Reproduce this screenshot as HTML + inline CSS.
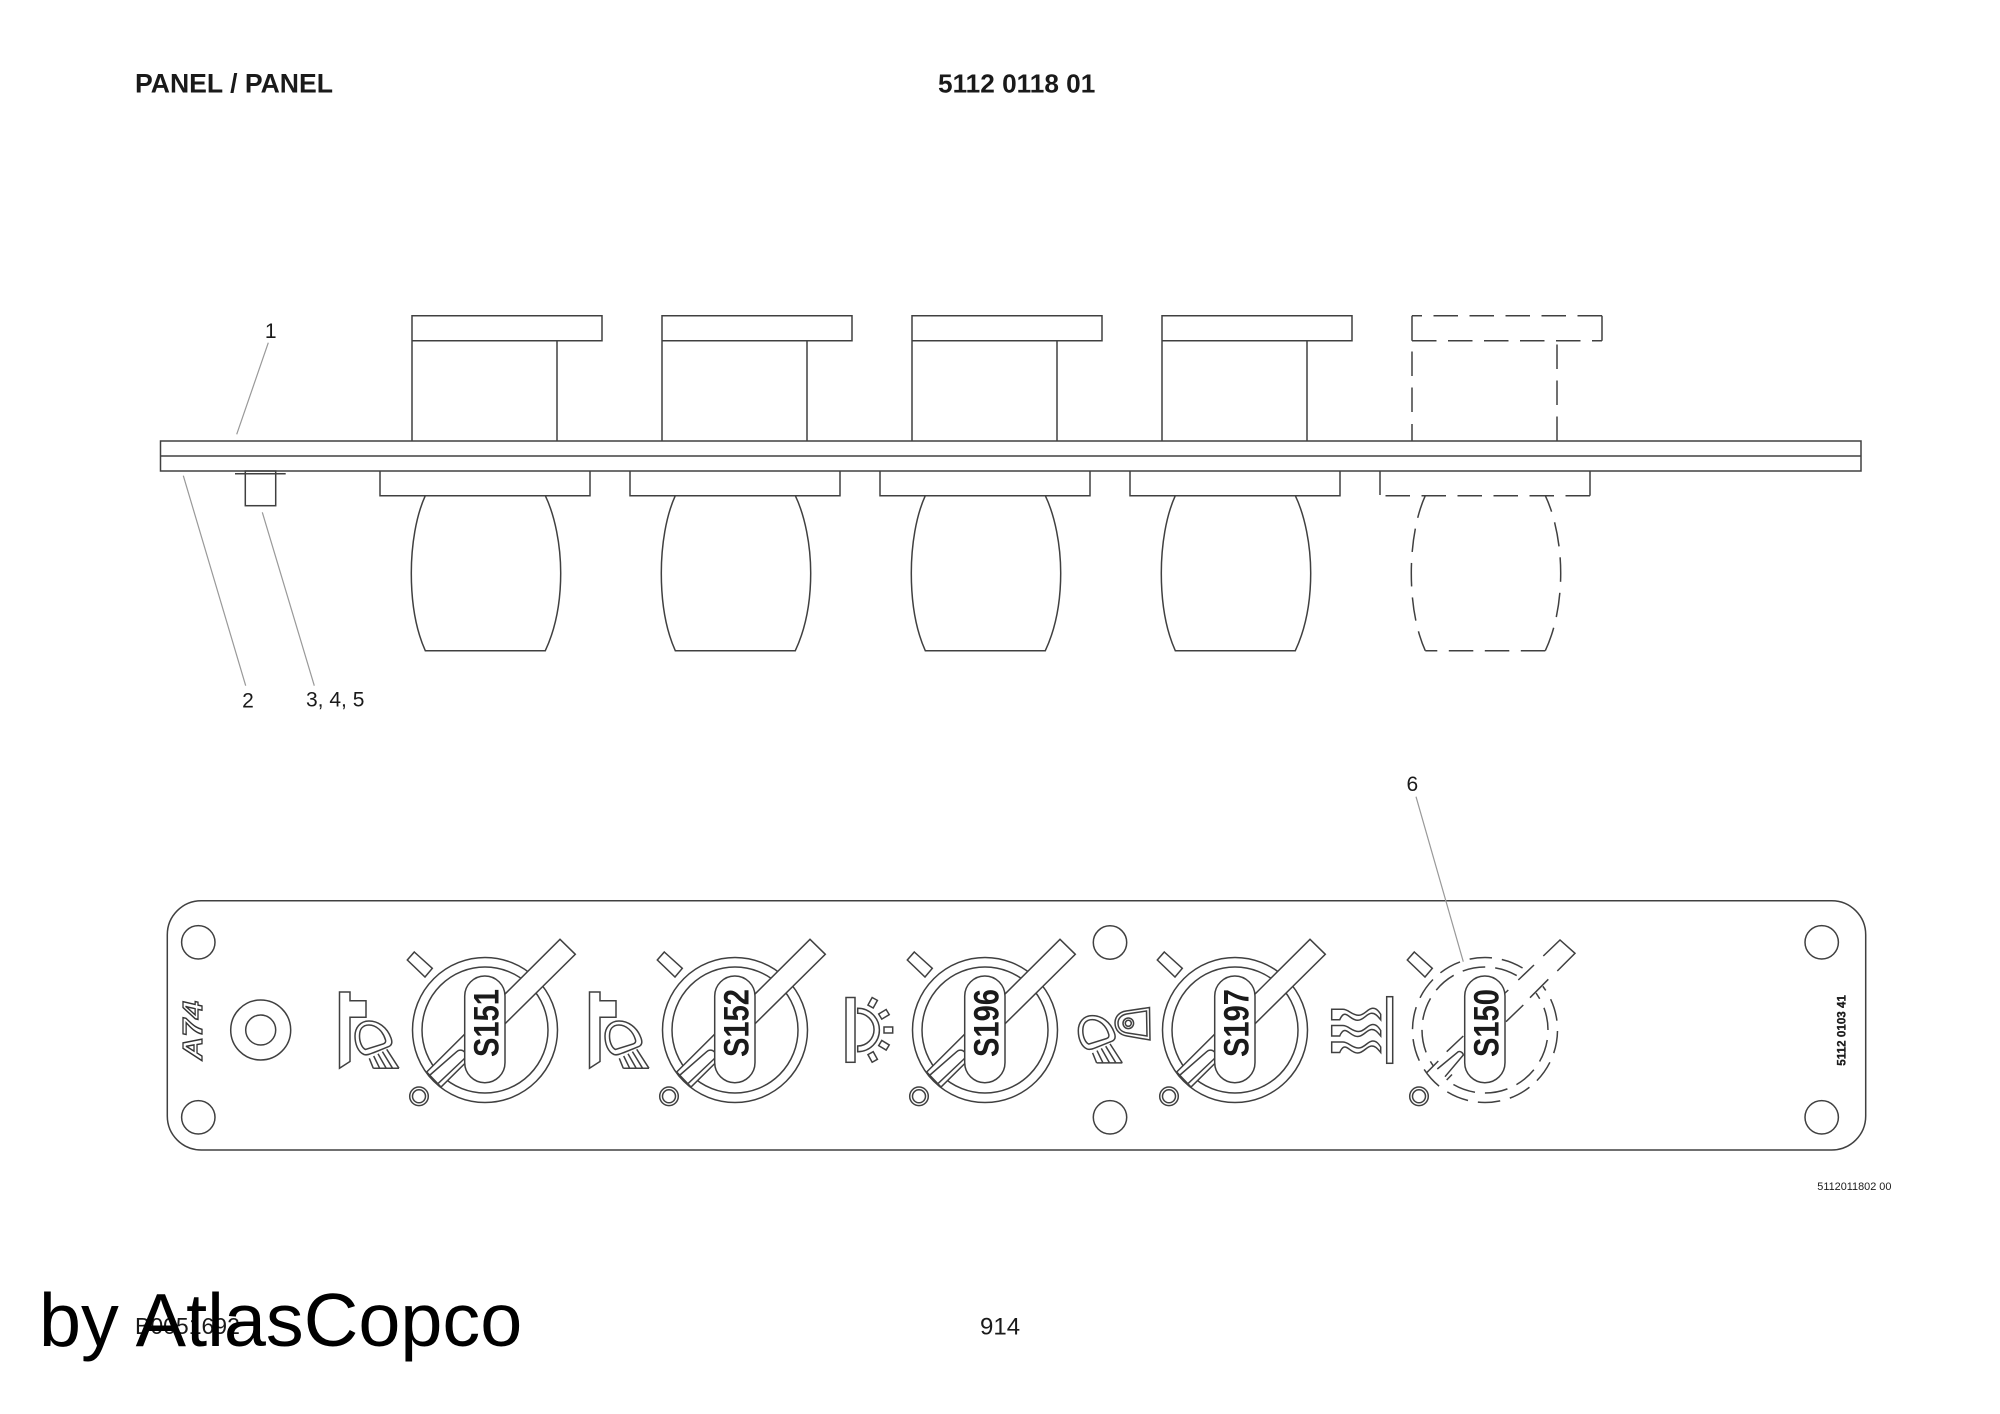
<!DOCTYPE html>
<html>
<head>
<meta charset="utf-8">
<style>
html,body{margin:0;padding:0;background:#fff;width:2000px;height:1414px;overflow:hidden}
svg{display:block}
text{font-family:"Liberation Sans",sans-serif;fill:#1a1a1a}
.l{fill:none;stroke:#404040;stroke-width:1.5}
.w{fill:#fff;stroke:#404040;stroke-width:1.5}
.d{fill:none;stroke:#404040;stroke-width:1.5;stroke-dasharray:24.5 11.5}
.ld{fill:none;stroke:#999;stroke-width:1.2}
</style>
</head>
<body>
<svg width="2000" height="1414" viewBox="0 0 2000 1414" xmlns="http://www.w3.org/2000/svg">
<defs>
  <g id="knob">
    <path class="l" d="M412 441V315.7H602V340.7H412M557 340.7V441"/>
    <path class="l" d="M380 471V495.7H590V471"/>
    <path class="l" d="M425.3 495.7C416 516 411.3 545 411.3 573C411.3 603 416 630 425.3 650.7H545.3C555 630 560.7 603 560.7 573C560.7 545 555 516 545.3 495.7"/>
  </g>
  <g id="sw">
    <circle class="l" r="72.5"/>
    <circle class="l" r="63"/>
    <path class="w" d="M75 -90.7L90.3 -75.7L-44 57L-58.3 42Z"/>
    <path class="l" d="M-55 45L-28 21.5A5 5 0 0 1 -21 29L-46.7 53.3"/>
    <path class="l" d="M-70.7 -78L-52.7 -61.7L-60 -53L-77.7 -70Z"/>
    <circle class="l" cx="-66" cy="66.3" r="9.3"/>
    <circle class="l" cx="-66" cy="66.3" r="6.5"/>
    <rect class="w" x="-20.3" y="-54" width="40.3" height="106.7" rx="20.1" ry="20.1"/>
  </g>
  <g id="lamp">
    <path class="l" d="M391 1038C387 1027 378 1021 369 1021C360 1021 355 1028 355 1036C355 1044 358 1052 364 1054.5C367 1055.5 370 1054 374 1052.5L389 1046.5C392 1045 392.5 1042 391 1038Z"/>
    <path class="l" d="M385.5 1040C383 1031 376 1025 369 1025C362 1025 359.5 1030 359.5 1036C359.5 1042 362 1048 365.5 1049.5L383 1044C385 1043.5 386 1042 385.5 1040Z"/>
    <path class="l" d="M369.3 1058.3L373.3 1068.3M373.7 1056L379.7 1068.3M378 1053.8L386.2 1068.3M382.4 1051.6L392.6 1068.3M386.7 1049.3L399 1068.3M373.3 1068.3H399"/>
  </g>
  <path id="br" class="l" d="M339.5 992H350V1000.7H366V1017.3H350V1061.5L339.5 1068.3Z"/>
  <path id="wave" class="l" d="M0 1H11C17 1 20 7 27 7C33 7 36 0 41 0C45 0 47 3 49 6V11.5C46 8 44 5 40 5C35 5 32 12 26 12C20 12 17 6 13 6C11 6 9 9 8 11.5H0Z"/>
</defs>

<!-- headers -->
<text x="135" y="92.7" font-size="26.6" font-weight="bold">PANEL / PANEL</text>
<text x="938" y="92.7" font-size="26.2" font-weight="bold">5112 0118 01</text>

<!-- side view -->
<use href="#knob"/>
<use href="#knob" x="250"/>
<use href="#knob" x="500"/>
<use href="#knob" x="750"/>

<!-- dashed knob -->
<path class="d" d="M1602 315.7H1412"/>
<path class="d" d="M1412 340.7H1602"/>
<path class="l" d="M1412 315.7V340.7M1602 315.7V340.7"/>
<path class="l" d="M1412 441V424" style="stroke-dasharray:none"/>
<path class="d" d="M1412 412V344" style="stroke-dasharray:24.5 11.5"/>
<path class="d" d="M1557 441V343.7"/>
<path class="l" d="M1380 471V495"/>
<path class="l" d="M1590 471V495.7"/>
<path class="d" d="M1590 495.7H1380"/>
<path class="d" d="M1425.3 495.7C1416 516 1411.3 545 1411.3 573C1411.3 603 1416 630 1425.3 650.7" style="stroke-dasharray:23.5 11"/>
<path class="d" d="M1545.3 650.7H1425.3"/>
<path class="d" d="M1545.3 650.7C1555 630 1560.7 603 1560.7 573C1560.7 545 1555 516 1545.3 495.7" style="stroke-dasharray:24.5 11"/>

<rect class="w" x="160.5" y="441" width="1700.5" height="30"/>
<line class="l" x1="160.5" y1="456" x2="1861" y2="456"/>
<rect class="l" x="245.3" y="471" width="30.4" height="34.7"/>
<line class="l" x1="235" y1="473.7" x2="285.7" y2="473.7"/>

<!-- leaders side -->
<line class="ld" x1="268.3" y1="342.7" x2="236.7" y2="434.3"/>
<line class="ld" x1="183.3" y1="475.7" x2="245.7" y2="685.7"/>
<line class="ld" x1="262.3" y1="512.3" x2="314.3" y2="685.7"/>
<text x="270.7" y="338" font-size="21" text-anchor="middle">1</text>
<text x="248" y="707.5" font-size="21" text-anchor="middle">2</text>
<text x="306" y="706.5" font-size="21">3, 4, 5</text>

<!-- plate -->
<rect class="l" x="167.3" y="900.7" width="1698.4" height="249.3" rx="34" ry="34"/>
<circle class="l" cx="198.3" cy="942.3" r="16.7"/>
<circle class="l" cx="198.3" cy="1117.3" r="16.7"/>
<circle class="l" cx="1110" cy="942.5" r="16.7"/>
<circle class="l" cx="1110" cy="1117.3" r="16.7"/>
<circle class="l" cx="1821.7" cy="942.3" r="16.7"/>
<circle class="l" cx="1821.7" cy="1117.3" r="16.7"/>
<circle class="l" cx="260.7" cy="1030" r="30"/>
<circle class="l" cx="260.7" cy="1030" r="15"/>

<text transform="translate(202,1060) rotate(-90)" font-size="28" font-weight="bold" font-style="italic" textLength="59" lengthAdjust="spacingAndGlyphs" style="fill:#fff;stroke:#333;stroke-width:1.3">A74</text>

<!-- switches -->
<use href="#sw" x="485" y="1030"/>
<use href="#sw" x="735" y="1030"/>
<use href="#sw" x="985" y="1030"/>
<use href="#sw" x="1235" y="1030"/>

<text transform="translate(498.3,1057) rotate(-90)" font-size="35" font-weight="bold" textLength="68" lengthAdjust="spacingAndGlyphs">S151</text>
<text transform="translate(748.3,1057) rotate(-90)" font-size="35" font-weight="bold" textLength="68" lengthAdjust="spacingAndGlyphs">S152</text>
<text transform="translate(998.3,1057) rotate(-90)" font-size="35" font-weight="bold" textLength="68" lengthAdjust="spacingAndGlyphs">S196</text>
<text transform="translate(1248.3,1057) rotate(-90)" font-size="35" font-weight="bold" textLength="68" lengthAdjust="spacingAndGlyphs">S197</text>

<!-- S150 dashed -->
<g transform="translate(1485,1030)">
  <circle class="l" r="72.5" style="stroke-dasharray:22.5 10;stroke-dashoffset:-1"/>
  <circle class="l" r="63" style="stroke-dasharray:23 10;stroke-dashoffset:-10"/>
  <path d="M75 -90.7L90.3 -75.7L-44 57L-58.3 42Z" fill="#fff" stroke="none"/>
  <path class="l" d="M58.3 -74L75 -90L90 -76.7L72.3 -59"/>
  <path class="l" d="M49 -65L33.3 -50M23.3 -40L19 -36"/>
  <path class="l" d="M63.3 -50.7L45 -32.3M38.3 -25L21 -8.3"/>
  <path class="l" d="M-21.7 6L-38.3 21.7M-46.7 31L-58.3 42.7"/>
  <path class="l" d="M-47.7 39L-26.7 21.7A4 4 0 0 1 -21.7 25L-40 46.7"/>
  <path class="l" d="M-38.3 50L-33 44.5"/>
  <path class="l" d="M-70.7 -78L-52.7 -61.7L-60 -53L-77.7 -70Z"/>
  <circle class="l" cx="-66" cy="66.3" r="9.3"/>
  <circle class="l" cx="-66" cy="66.3" r="6.5"/>
  <rect class="w" x="-20.3" y="-54" width="40.3" height="106.7" rx="20.1" ry="20.1"/>
</g>
<text transform="translate(1498.3,1057) rotate(-90)" font-size="35" font-weight="bold" textLength="68" lengthAdjust="spacingAndGlyphs">S150</text>

<!-- pictograms -->
<use href="#br"/>
<use href="#lamp"/>
<use href="#br" x="250"/>
<use href="#lamp" x="250"/>

<rect class="l" x="846" y="997.5" width="9" height="64.8"/>
<path class="l" d="M857.7 1008.3A21.7 21.7 0 0 1 857.7 1051.7V1046A16.3 16.3 0 0 0 857.7 1013.3Z"/>
<rect class="l" x="884" y="1027" width="8.7" height="6"/>
<rect class="l" x="-4.4" y="-3" width="8.7" height="6" transform="translate(872.7,1002.7) rotate(-61)"/>
<rect class="l" x="-4.4" y="-3" width="8.7" height="6" transform="translate(884,1014.3) rotate(-31)"/>
<rect class="l" x="-4.4" y="-3" width="8.7" height="6" transform="translate(884,1045.3) rotate(31)"/>
<rect class="l" x="-4.4" y="-3" width="8.7" height="6" transform="translate(872.7,1057) rotate(61)"/>

<use href="#lamp" x="723.3" y="-5.4"/>
<path class="l" d="M1149.5 1007.5L1126 1011C1119 1012 1115 1017 1115 1023C1115 1030 1120 1035 1127 1036L1150 1040Z"/>
<path class="l" d="M1146.5 1011L1126.5 1014C1121 1015 1118 1019 1118 1023C1118 1028 1121 1032 1127.5 1033L1147 1036Z"/>
<circle class="l" cx="1128.3" cy="1023.3" r="5.3"/>
<circle class="l" cx="1128.3" cy="1023.3" r="3"/>

<use href="#wave" x="1331.7" y="1008.3"/>
<use href="#wave" x="1331.7" y="1024.5"/>
<use href="#wave" x="1331.7" y="1041"/>
<rect class="l" x="1386.7" y="996.7" width="6" height="66.6"/>

<!-- leader 6 -->
<line class="ld" x1="1416" y1="796.7" x2="1463.3" y2="961.7"/>
<text x="1412.3" y="791" font-size="21" text-anchor="middle">6</text>

<!-- part labels -->
<text transform="translate(1845.7,1065.7) rotate(-90)" font-size="11.6" font-weight="bold" textLength="70.7" style="stroke:#1a1a1a;stroke-width:.3">5112 0103 41</text>
<text x="1817.3" y="1190" font-size="10.9">5112011802 00</text>

<!-- footer -->
<text x="135" y="1334" font-size="23">B0051692</text>
<text x="980" y="1334.5" font-size="24">914</text>
<text x="39" y="1346" font-size="75.6" style="fill:#000">by AtlasCopco</text>
</svg>
</body>
</html>
